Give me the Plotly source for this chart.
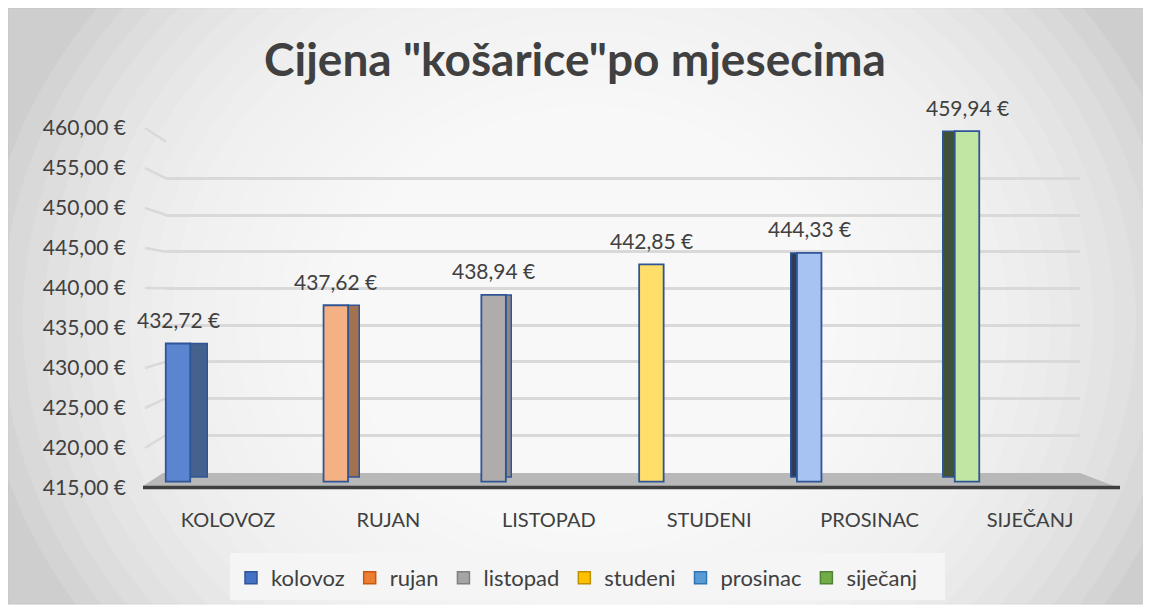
import plotly.graph_objects as go

# ---------------- data ----------------
months = ["kolovoz", "rujan", "listopad", "studeni", "prosinac", "siječanj"]
category_labels = ["KOLOVOZ", "RUJAN", "LISTOPAD", "STUDENI", "PROSINAC", "SIJEČANJ"]
prices = [432.72, 437.62, 438.94, 442.85, 444.33, 459.94]
y_min, y_max, y_step = 415, 460, 5
title_text = 'Cijena "košarice"po mjesecima'

# ---------------- styles ----------------
W, H = 1151, 610
OFF = 8  # page body margin: screen pixel = plot pixel + OFF
def fx(px):
    return (px - OFF) / W
def fy(py):
    return 1 - (py - OFF) / H

FRONT = ["#5b86cf", "#f4b183", "#b0acab", "#ffdf6a", "#a6c3f2", "#bfe6a3"]
SIDE = ["#45628f", "#a2724f", "#8c8786", "#d9b44a", "#2e3d55", "#3f5238"]
LEGEND = ["#4472c4", "#ed7d31", "#a5a5a5", "#ffc000", "#5b9bd5", "#70ad47"]
LEGEND_LINE = ["#2f5597", "#c55a11", "#7f7f7f", "#bf9000", "#2e75b6", "#548235"]
OUTLINE = "#2f5597"
TXT = "#404040"
GRID = "#d9d9d9"
FONT = "Lato"

UNIT_PX = 157.8          # pixels per category on the bar axis
BAR_PX_PER_VAL = 7.8     # front-face vertical scale
BAR_BASE_PX = 481.7
FRONT_W = 24.5 / UNIT_PX

# front (label) scale and back-wall (grid) scale, in screen pixels
LBL_BOT, LBL_TOP = 488, 128
GRID_BOT, GRID_TOP = 471.7, 141.7
WALL_X0, WALL_X1 = 145, 166

def bar_px(v):
    return BAR_BASE_PX - (v - y_min) * BAR_PX_PER_VAL
def lbl_px(v):
    return LBL_BOT - (v - y_min) * (LBL_BOT - LBL_TOP) / (y_max - y_min)
def grid_px(v):
    return GRID_BOT - (v - y_min) * (GRID_BOT - GRID_TOP) / (y_max - y_min)

fig = go.Figure()

# gridline subplot (back wall)
fig.add_trace(go.Scatter(x=[], y=[], xaxis="x", yaxis="y", showlegend=False, hoverinfo="skip"))

# bars: side faces then front faces
for i, (m, v) in enumerate(zip(months, prices)):
    side_px = 17 - 5.8 * i
    if abs(side_px) > 1:
        sw = abs(side_px) / UNIT_PX
        off = FRONT_W / 2 if side_px > 0 else -FRONT_W / 2 - sw
        fig.add_trace(go.Bar(
            x=[m], y=[v - y_min - 0.6], base=y_min + 0.6,
            offset=off, width=sw,
            marker=dict(color=SIDE[i], line=dict(color=OUTLINE, width=1.5)),
            xaxis="x2", yaxis="y2", showlegend=False, hoverinfo="skip"))
    fig.add_trace(go.Bar(
        x=[m], y=[v - y_min], base=y_min,
        offset=-FRONT_W / 2, width=FRONT_W,
        marker=dict(color=FRONT[i], line=dict(color=OUTLINE, width=1.8)),
        xaxis="x2", yaxis="y2", showlegend=False, hoverinfo="skip"))

# legend entries
for i, m in enumerate(months):
    fig.add_trace(go.Bar(
        x=[m], y=[None], name=m,
        marker=dict(color=LEGEND[i], line=dict(color=LEGEND_LINE[i], width=1.5)),
        xaxis="x2", yaxis="y2", showlegend=True, hoverinfo="skip"))

# label axis trace (invisible)
fig.add_trace(go.Scatter(x=[], y=[], xaxis="x3", yaxis="y3", showlegend=False, hoverinfo="skip"))

# value labels
annotations = []
for m, v in zip(months, prices):
    annotations.append(dict(
        x=m, y=v, xref="x2", yref="y2", yshift=24,
        text=f"{v:.2f}".replace(".", ",") + " €",
        showarrow=False, yanchor="middle", xanchor="center",
        font=dict(family=FONT, size=21, color=TXT)))

# background shapes
shapes = []
shapes.append(dict(type="rect", xref="paper", yref="paper",
                   x0=fx(8), x1=fx(1147), y0=fy(604), y1=fy(8),
                   fillcolor="#cecece", line=dict(color="#c4c4c4", width=1), layer="below"))
cx, cy, rx0, ry0 = 590, 320, 610, 530
N = 24
for k in range(N):
    f = 1 - k * 0.035
    rx, ry = rx0 * f, ry0 * f
    shapes.append(dict(type="circle", xref="paper", yref="paper",
                       x0=fx(cx - rx), x1=fx(cx + rx), y0=fy(cy + ry), y1=fy(cy - ry),
                       fillcolor="white", opacity=0.12, line=dict(width=0), layer="below"))
# side-wall gridline stubs (perspective from label position to back wall)
for v in range(y_min + y_step, y_max + 1, y_step):
    shapes.append(dict(type="line", xref="paper", yref="paper",
                       x0=fx(WALL_X0), y0=fy(lbl_px(v)), x1=fx(WALL_X1), y1=fy(grid_px(v)),
                       line=dict(color=GRID, width=2.5), layer="below"))
# floor
shapes.append(dict(type="path", xref="paper", yref="paper",
                   path=f"M {fx(163)},{fy(473)} L {fx(1080)},{fy(473)} L {fx(1114)},{fy(486)} L {fx(143)},{fy(486)} Z",
                   fillcolor="#b8b8b8", line=dict(width=0), layer="below"))
shapes.append(dict(type="line", xref="paper", yref="paper",
                   x0=fx(143), x1=fx(1120), y0=fy(487.5), y1=fy(487.5),
                   line=dict(color="#3f3f3f", width=3.5), layer="below"))
# legend box
shapes.append(dict(type="rect", xref="paper", yref="paper",
                   x0=fx(230), x1=fx(945), y0=fy(600), y1=fy(553),
                   fillcolor="#f5f5f5", line=dict(width=0), layer="below"))

fig.update_layout(
    template="none",
    width=W, height=H,
    margin=dict(l=0, r=0, t=0, b=0, pad=0, autoexpand=False),
    paper_bgcolor="white", plot_bgcolor="rgba(0,0,0,0)",
    separators=", ",
    barmode="overlay",
    hovermode=False,
    font=dict(family=FONT, color=TXT),
    title=dict(text=title_text, x=fx(575), y=fy(60), xref="paper", yref="paper",
               xanchor="center", yanchor="middle",
               font=dict(family=FONT, size=46, color=TXT, weight=700)),
    # back-wall gridlines
    xaxis=dict(domain=[fx(WALL_X1), fx(1080)], range=[0, 1], visible=False, anchor="y",
               automargin=False),
    yaxis=dict(domain=[fy(GRID_BOT), fy(GRID_TOP)], range=[y_min, y_max], dtick=y_step,
               tick0=y_min, showticklabels=False, ticks="", showline=False, zeroline=False,
               showgrid=True, gridcolor=GRID, gridwidth=2.5, anchor="x",
               automargin=False),
    # bars
    xaxis2=dict(domain=[fx(178 - UNIT_PX / 2), fx(178 + 5.5 * UNIT_PX)], type="category",
                categoryorder="array", categoryarray=months, range=[-0.5, 5.5],
                visible=False, anchor="y2", automargin=False),
    yaxis2=dict(domain=[fy(bar_px(413)), fy(bar_px(461))], range=[413, 461],
                visible=False, anchor="x2", automargin=False),
    # category labels + value ticks
    xaxis3=dict(domain=[fx(228 - 160.4 / 2), fx(228 + 5.5 * 160.4)], range=[-0.5, 5.5],
                tickmode="array", tickvals=list(range(len(category_labels))),
                ticktext=category_labels, ticks="", showgrid=False, zeroline=False,
                showline=False, anchor="y3", ticklabelstandoff=18, automargin=False,
                tickfont=dict(family=FONT, size=20, color=TXT)),
    yaxis3=dict(domain=[fy(LBL_BOT), fy(LBL_TOP)], range=[y_min, y_max], dtick=y_step, tick0=y_min,
                tickformat=".2f", ticksuffix=" €", ticks="", showgrid=False, zeroline=False,
                showline=False, anchor="free", position=fx(126), automargin=False,
                tickfont=dict(family=FONT, size=21, color=TXT)),
    legend=dict(orientation="h", x=fx(577), xanchor="center", y=fy(578), yanchor="middle",
                bgcolor="rgba(0,0,0,0)", font=dict(family=FONT, size=22, color=TXT),
                traceorder="normal"),
    annotations=annotations,
    shapes=shapes,
)

fig.write_html("out.html")
